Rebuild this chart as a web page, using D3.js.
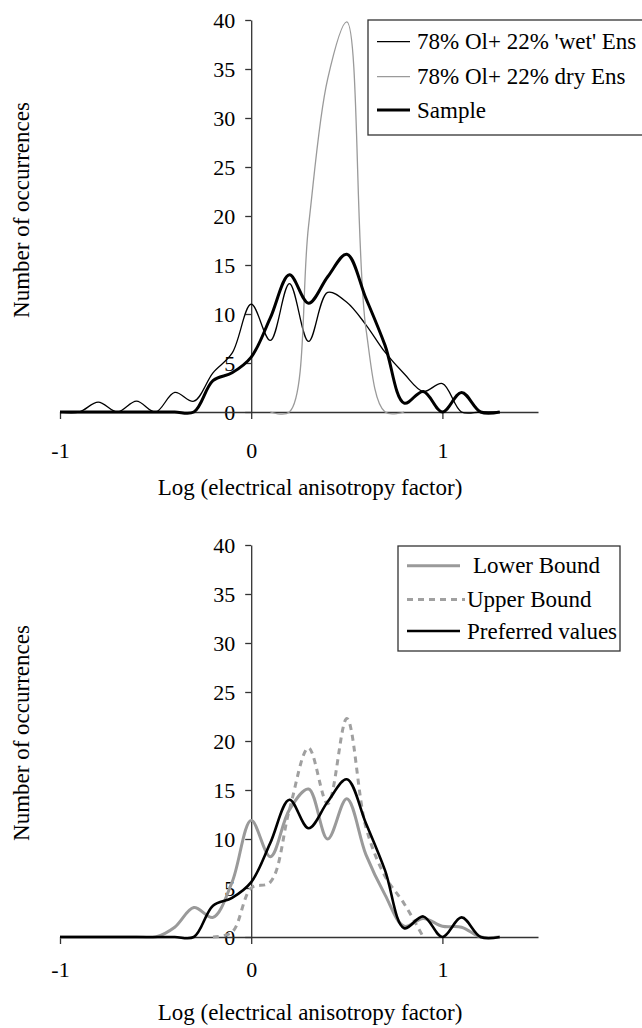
<!DOCTYPE html>
<html>
<head>
<meta charset="utf-8">
<script src="https://cdn.jsdelivr.net/npm/d3@7"></script>
<style>
  html, body { margin: 0; padding: 0; background: #fff; }
  svg { display: block; }
  svg text { font-family: "Liberation Serif", "Times New Roman", Times, serif; }
</style>
</head>
<body>
<svg id="chart" width="642" height="1028"></svg>
<script>
// Histogram bin centres, log10 of the electrical anisotropy factor
const logBins = [-1.0, -0.9, -0.8, -0.7, -0.6, -0.5, -0.4, -0.3, -0.2, -0.1,
                 0.0, 0.1, 0.2, 0.3, 0.4, 0.5, 0.6, 0.7, 0.8, 0.9, 1.0, 1.1, 1.2, 1.3];

// Upper panel: model aggregates vs. sample
const wetEnsCounts = [0, 0, 1.0, 0, 1.1, 0, 2.0, 1.1, 4.0, 6.0,
                      11.0, 7.3, 13.1, 7.2, 12.2, 11.2, 8.9, 6.1, 3.9, 2.1, 2.9, 0, 0, 0];
const dryEnsBins   = [0.1, 0.2, 0.3, 0.4, 0.5, 0.6, 0.7, 0.8];
const dryEnsCounts = [0, 0, 19.0, 34.0, 39.8, 8.5, 0, 0];
const sampleCounts = [0, 0, 0, 0, 0, 0, 0, 0, 3.2, 4.0,
                      5.6, 9.6, 14.0, 11.1, 13.8, 16.1, 11.6, 6.8, 0.9, 2.1, 0, 2.0, 0, 0];

// Lower panel: bounds and preferred values
const lowerBoundCounts = [0, 0, 0, 0, 0, 0, 1.0, 3.0, 2.0, 5.6,
                          11.9, 8.2, 13.0, 15.1, 10.0, 14.1, 8.4, 4.3, 1.1, 1.9, 1.1, 1.0, 0, 0];
const upperBoundBins   = [-0.2, -0.1, 0.0, 0.1, 0.2, 0.3, 0.4, 0.5, 0.6, 0.7, 0.8, 0.9];
const upperBoundCounts = [0, 0.5, 5.0, 5.6, 13.0, 19.3, 13.6, 22.3, 11.2, 6.2, 3.4, 0];
const preferredCounts  = [0, 0, 0, 0, 0, 0, 0, 0, 3.2, 4.0,
                          5.6, 9.6, 14.0, 11.1, 13.8, 16.1, 11.6, 6.8, 0.9, 2.1, 0, 2.0, 0, 0];

// Axis ticks and titles
const xDomain = [-1, 1.5];
const yDomain = [0, 40];
const xTickValues = [-1, 0, 1];
const yTickValues = [0, 5, 10, 15, 20, 25, 30, 35, 40];
const xTitle = "Log (electrical anisotropy factor)";
const yTitle = "Number of occurrences";

const SERIF = '"Liberation Serif", "Times New Roman", Times, serif';
const svg = d3.select("#chart").attr("font-family", SERIF);

function drawPanel(offsetY, opts, series, legend) {
  const g = svg.append("g").attr("transform", `translate(0,${offsetY})`);
  const x = d3.scaleLinear().domain(xDomain).range([60, 538]);
  const y = d3.scaleLinear().domain(yDomain).range([412, 20]);

  // y axis
  const yAxis = g.append("g")
    .attr("transform", `translate(${x(0)},0)`)
    .call(d3.axisLeft(y).tickValues(yTickValues).tickFormat(d3.format("d"))
      .tickSize(6).tickSizeOuter(0).tickPadding(10));
  // x axis
  const xAxis = g.append("g")
    .attr("transform", `translate(0,${y(0)})`)
    .call(d3.axisBottom(x).tickValues(xTickValues)
      .tickFormat(d => d3.format("d")(d).replace("\u2212", "-"))
      .tickSize(7).tickSizeOuter(0).tickPadding(opts.xTickPad));

  [yAxis, xAxis].forEach(a => {
    a.attr("font-family", SERIF).attr("font-size", 22);
    a.select(".domain").attr("stroke", "#333").attr("stroke-width", 1.3);
    a.selectAll(".tick line").attr("stroke", "#333").attr("stroke-width", 1.3);
    a.selectAll(".tick text").attr("fill", "#000");
  });

  // axis titles
  g.append("text")
    .attr("x", 310).attr("y", opts.xTitleY)
    .attr("text-anchor", "middle")
    .attr("font-size", 23)
    .text(xTitle);
  g.append("text")
    .attr("transform", `translate(29,${opts.yTitleY}) rotate(-90)`)
    .attr("text-anchor", "middle")
    .attr("font-size", 23)
    .text(yTitle);

  // curves (smoothed lines through the bin counts)
  const line = d3.line()
    .x(d => x(d[0]))
    .y(d => y(d[1]))
    .curve(d3.curveCatmullRom.alpha(0.5));

  series.forEach(s => {
    const pts = s.bins.map((b, i) => [b, s.values[i]]);
    g.append("path")
      .datum(pts)
      .attr("fill", "none")
      .attr("stroke", s.color)
      .attr("stroke-width", s.width)
      .attr("stroke-dasharray", s.dash || null)
      .attr("stroke-linejoin", "round")
      .attr("d", line);
  });

  // legend
  const lg = g.append("g");
  lg.append("rect")
    .attr("x", legend.box[0]).attr("y", legend.box[1])
    .attr("width", legend.box[2]).attr("height", legend.box[3])
    .attr("fill", "#fff").attr("stroke", "#333").attr("stroke-width", 1.3);
  legend.rows.forEach((r, i) => {
    const s = series[r.series];
    const cy = legend.rowY[i];
    lg.append("line")
      .attr("x1", legend.lineX[0]).attr("x2", r.lineEnd || legend.lineX[1])
      .attr("y1", cy).attr("y2", cy)
      .attr("stroke", s.color)
      .attr("stroke-width", s.width)
      .attr("stroke-dasharray", s.dash || null);
    lg.append("text")
      .attr("x", r.textX).attr("y", cy + 7.6)
      .attr("font-size", 23)
      .text(s.name);
  });
}

drawPanel(0, { xTickPad: 23, xTitleY: 495, yTitleY: 210 }, [
  { name: "78% Ol+ 22% 'wet' Ens", bins: logBins, values: wetEnsCounts, color: "#000", width: 1.3 },
  { name: "78% Ol+ 22% dry Ens", bins: dryEnsBins, values: dryEnsCounts, color: "#9a9a9a", width: 1.3 },
  { name: "Sample", bins: logBins, values: sampleCounts, color: "#000", width: 3 }
], {
  box: [368, 20, 300, 115],
  lineX: [377, 410],
  rowY: [41.7, 76.7, 110],
  rows: [
    { series: 0, textX: 417 },
    { series: 1, textX: 417 },
    { series: 2, textX: 417 }
  ]
});

drawPanel(525, { xTickPad: 17, xTitleY: 495, yTitleY: 208 }, [
  { name: "Lower Bound", bins: logBins, values: lowerBoundCounts, color: "#9a9a9a", width: 3 },
  { name: "Upper Bound", bins: upperBoundBins, values: upperBoundCounts, color: "#a0a0a0", width: 3, dash: "6,5" },
  { name: "Preferred values", bins: logBins, values: preferredCounts, color: "#000", width: 2.6 }
], {
  box: [398, 21, 222, 105],
  lineX: [407, 460],
  rowY: [40.8, 74.5, 106],
  rows: [
    { series: 0, textX: 473 },
    { series: 1, textX: 467, lineEnd: 465 },
    { series: 2, textX: 467 }
  ]
});
</script>
</body>
</html>
